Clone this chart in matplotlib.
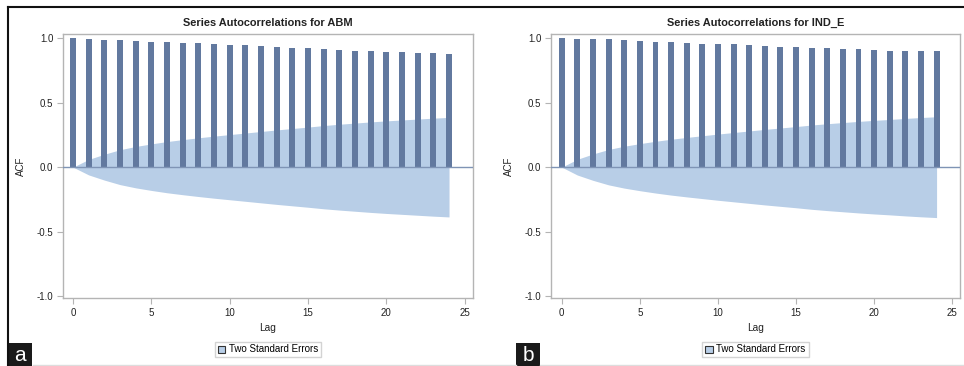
import matplotlib
matplotlib.use("Agg")
import matplotlib.pyplot as plt
from matplotlib.patches import Patch, Rectangle
from matplotlib.lines import Line2D

plt.rcParams['font.family'] = ['Liberation Sans', 'DejaVu Sans']

lags = list(range(25))
acf_abm = [1.000, 0.992, 0.987, 0.982, 0.977, 0.971, 0.966, 0.961, 0.960, 0.953,
           0.948, 0.943, 0.938, 0.930, 0.925, 0.920, 0.912, 0.906, 0.901, 0.896,
           0.894, 0.891, 0.886, 0.881, 0.873]
acf_ind = [1.000, 0.995, 0.995, 0.990, 0.982, 0.977, 0.971, 0.966, 0.961, 0.956,
           0.956, 0.951, 0.943, 0.938, 0.930, 0.930, 0.925, 0.919, 0.914, 0.914,
           0.906, 0.901, 0.901, 0.896, 0.896]
se2_abm = [0.000, 0.060, 0.100, 0.135, 0.160, 0.180, 0.198, 0.213, 0.227, 0.240,
           0.252, 0.264, 0.276, 0.288, 0.299, 0.310, 0.322, 0.332, 0.341, 0.350,
           0.358, 0.365, 0.372, 0.379, 0.385]
se2_ind = [0.000, 0.061, 0.102, 0.137, 0.162, 0.182, 0.200, 0.216, 0.230, 0.243,
           0.256, 0.268, 0.280, 0.292, 0.303, 0.314, 0.326, 0.336, 0.345, 0.354,
           0.362, 0.369, 0.377, 0.384, 0.390]
titles = ["Series Autocorrelations for ABM", "Series Autocorrelations for IND_E"]
panel_labels = ["a", "b"]
xticks = [0, 5, 10, 15, 20, 25]
yticks = [-1.0, -0.5, 0.0, 0.5, 1.0]

W, H = 964, 366
fig = plt.figure(figsize=(W / 100, H / 100), dpi=100)

BAR = "#62799F"
BAND = "#B8CEE7"
FRAME = "#B4B4B4"
TXT = "#222222"

def px_axes(x0, x1, y0, y1):
    return fig.add_axes([x0 / W, 1 - y1 / H, (x1 - x0) / W, (y1 - y0) / H])

axes_px = [(63, 473, 34, 298), (551, 960, 34, 298)]
xlims = [(-0.64, 25.53), (-0.69, 25.5)]
series = [(acf_abm, se2_abm), (acf_ind, se2_ind)]

for i, (ax_px, xl, (acf, se2)) in enumerate(zip(axes_px, xlims, series)):
    ax = px_axes(*ax_px)
    ax.fill_between(lags, [-v for v in se2], se2, color=BAND, linewidth=0, zorder=1)
    ax.bar(lags, acf, width=0.38, color=BAR, zorder=2)
    ax.axhline(0, color="#7F94B5", linewidth=1.0, zorder=3)
    ax.set_xlim(*xl)
    ax.set_ylim(-1.012, 1.03)
    ax.set_xticks(xticks)
    ax.set_yticks(yticks)
    ax.set_yticklabels([f"{v:.1f}" for v in yticks])
    for s in ax.spines.values():
        s.set_color(FRAME)
        s.set_linewidth(1.0)
    ax.tick_params(direction="out", length=4, width=0.8, color=FRAME,
                   labelsize=7, labelcolor=TXT, pad=3)
    ax.set_title(titles[i], fontsize=7.9, fontweight="bold", color=TXT, pad=6)
    ax.set_xlabel("Lag", fontsize=7.3, color=TXT, va="center")
    ax.xaxis.set_label_coords(0.5, -0.114)
    ax.set_ylabel("ACF", fontsize=7, color=TXT, va="center")
    ax.yaxis.set_label_coords(-0.102, 0.5)
    handle = Patch(facecolor=BAND, edgecolor="#333333", linewidth=0.8)
    ax.legend([handle], ["Two Standard Errors"], loc="center",
              bbox_to_anchor=(0.5, -0.195), fontsize=7, frameon=True,
              fancybox=False, edgecolor="#C8C8C8", handlelength=0.75,
              handleheight=0.75, handletextpad=0.4, borderpad=0.3,
              borderaxespad=0)

# panel labels
for (x0, lab) in [(8, "a"), (516, "b")]:
    fig.patches.append(Rectangle((x0 / W, 0), 24 / W, 23 / H, transform=fig.transFigure,
                                 facecolor="#1a1a1a", edgecolor="none"))
    fig.text((x0 + 12) / W, 10.5 / H, lab, color="white", fontsize=15,
             ha="center", va="center")

# outer frame lines
fig.add_artist(Line2D([8 / W, 1], [1 - 7 / H, 1 - 7 / H], color="#111111", linewidth=1.5,
                      transform=fig.transFigure))
fig.add_artist(Line2D([8 / W, 8 / W], [0, 1 - 7 / H], color="#111111", linewidth=1.5,
                      transform=fig.transFigure))
fig.add_artist(Line2D([33 / W, 516 / W], [1.5 / H, 1.5 / H], color="#DDDDDD", linewidth=1,
                      transform=fig.transFigure))
fig.add_artist(Line2D([540 / W, 1], [1.5 / H, 1.5 / H], color="#DDDDDD", linewidth=1,
                      transform=fig.transFigure))

fig.savefig("out.png", dpi=100)
